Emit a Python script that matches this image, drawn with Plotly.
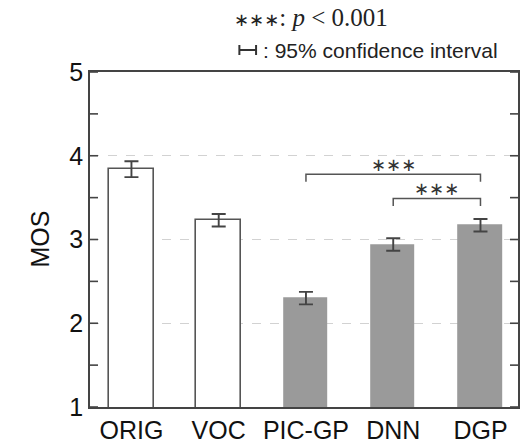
import plotly.graph_objects as go

categories = ["ORIG", "VOC", "PIC-GP", "DNN", "DGP"]
mos = [3.84, 3.23, 2.30, 2.94, 3.17]
ci = [0.095, 0.075, 0.075, 0.075, 0.075]
filled = [False, False, True, True, True]
# significance brackets: (from index, to index, height, drop)
brackets = [(2, 4, 3.78, 0.09), (3, 4, 3.49, 0.09)]
y_ticks = [1, 2, 3, 4, 5]
y_minor_ticks = [1.5, 2.5, 3.5, 4.5]

x = list(range(1, len(categories) + 1))
dark = "#444444"

fig = go.Figure()
fig.add_trace(go.Bar(
    x=x, y=mos, width=0.51,
    marker=dict(color=["#9a9a9a" if f else "white" for f in filled],
                line=dict(color=["rgba(0,0,0,0)" if f else "#555555" for f in filled], width=1.6)),
    error_y=dict(type="data", array=ci, color=dark, thickness=1.9, width=7),
    showlegend=False,
))

for a, b, h, d in brackets:
    xa, xb = x[a], x[b]
    fig.add_trace(go.Scatter(x=[xa, xa, xb, xb], y=[h - d, h, h, h - d], mode="lines",
                             line=dict(color="#555555", width=1.5), showlegend=False, hoverinfo="skip"))
    fig.add_annotation(x=(xa + xb) / 2, y=h, text="∗∗∗", showarrow=False, yanchor="bottom",
                       yshift=-3, font=dict(family="DejaVu Sans", size=18, color="#333333"))

# inward ticks on both sides (major + minor)
for t in y_ticks + y_minor_ticks:
    fig.add_shape(type="line", xref="paper", yref="y", xsizemode="pixel", xanchor=0,
                  x0=0, x1=8, y0=t, y1=t, line=dict(color=dark, width=1.6))
    fig.add_shape(type="line", xref="paper", yref="y", xsizemode="pixel", xanchor=1,
                  x0=-8, x1=0, y0=t, y1=t, line=dict(color=dark, width=1.6))

# notes above the plot
fig.add_annotation(xref="paper", yref="paper", x=0.516, y=1.0, yshift=55, xanchor="center", yanchor="middle",
                   showarrow=False,
                   text="<span style='font-family:DejaVu Sans;font-size:18px'>∗∗∗</span>: <i>p</i> &lt; 0.001",
                   font=dict(family="Liberation Serif, DejaVu Serif", size=25, color="#222222"))
fig.add_annotation(xref="paper", yref="paper", x=0.4, y=1.0, yshift=22, xanchor="left", yanchor="middle",
                   showarrow=False, text=": 95% confidence interval",
                   font=dict(family="Liberation Sans, Arial", size=21, color="#222222"))
# confidence-interval icon
icon_style = dict(type="line", xref="paper", yref="paper", ysizemode="pixel", yanchor=1.0,
                  line=dict(color="#333333", width=2))
fig.add_shape(x0=0.349, x1=0.388, y0=22, y1=22, **icon_style)
fig.add_shape(x0=0.349, x1=0.349, y0=17, y1=27, **icon_style)
fig.add_shape(x0=0.388, x1=0.388, y0=17, y1=27, **icon_style)

# y-axis title
fig.add_annotation(xref="paper", yref="paper", x=0, y=0.5, xshift=-67, textangle=-90,
                   showarrow=False, text="MOS", font=dict(family="Liberation Sans, Arial", size=25,
                                                         color="#111111"))

fig.update_layout(
    width=520, height=444, margin=dict(l=90, r=0, t=72, b=34),
    paper_bgcolor="white", plot_bgcolor="white",
    font=dict(family="Liberation Sans, Arial", color="#111111"),
    bargap=0,
)
fig.update_xaxes(range=[0.525, 5.43], tickvals=x, ticktext=categories, ticks="",
                 tickfont=dict(size=25), showline=True, linecolor=dark, linewidth=1.6,
                 mirror=True, showgrid=False, zeroline=False)
fig.update_yaxes(range=[1, 5], tickvals=y_ticks, ticks="", ticksuffix=" ",
                 tickfont=dict(size=25), showline=True, linecolor=dark,
                 linewidth=1.6, mirror=True, showgrid=True, gridcolor="#d2d2d2", griddash="dash",
                 gridwidth=1.4, zeroline=False)

fig.write_html("out.html")
